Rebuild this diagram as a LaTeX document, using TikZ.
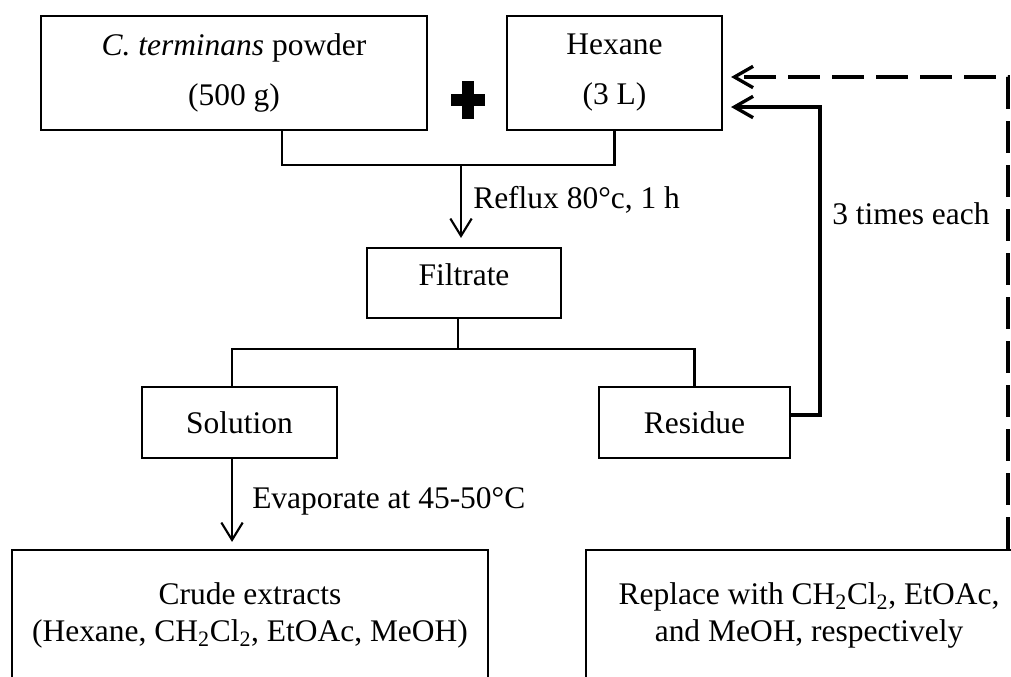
\documentclass[tikz,border=0pt]{standalone}
\usepackage{fontspec}
\setmainfont{Liberation Serif}
\usetikzlibrary{arrows.meta}
\begin{document}
\begin{tikzpicture}[
  x=0.75pt, y=-0.75pt,
  box/.style={draw, line width=1.6pt, inner sep=0pt, align=center,
    font=\fontsize{23.6}{37.5}\selectfont},
  lowbox/.style={box, font=\fontsize{23.6}{27.75}\selectfont},
  note/.style={inner sep=0pt, anchor=base west, font=\fontsize{23.6}{28}\selectfont},
  link/.style={line width=1.6pt},
  arr/.style={link, -{Straight Barb[length=13pt,width=16pt]}},
  cycle/.style={line width=2.5pt, -{Straight Barb[length=14pt,width=16pt]}, shorten >=6pt},
  again/.style={cycle, dash pattern=on 24pt off 9pt}
]
\useasboundingbox (0,0) rectangle (1011,676);

% starting materials
\node[box, minimum width=289.5pt, minimum height=85.5pt] (powder) at (234,73)
  {\textit{C. terminans} powder\\(500 g)};
\node[box, minimum width=161.25pt, minimum height=85.5pt] (hex) at (614.5,73)
  {Hexane\\(3 L)};
% plus sign
\fill (462,81) rectangle (474,119);
\fill (451,94) rectangle (485,106);

% intermediate steps
\node[box, minimum width=145.5pt, minimum height=52.5pt, text height=16pt, text depth=13pt]
  (filt) at (464,283) {Filtrate};
\node[box, minimum width=146.25pt, minimum height=53.25pt] (sol) at (239.5,422.5) {Solution};
\node[box, minimum width=143.25pt, minimum height=53.25pt] (res) at (694.5,422.5) {Residue};

% products (open towards the bottom edge)
\node[lowbox, minimum width=357pt, minimum height=97.5pt] (crude) at (250,615)
  {Crude extracts\\(Hexane, CH\textsubscript{2}Cl\textsubscript{2}, EtOAc, MeOH)};
\node[lowbox, minimum width=334.5pt, minimum height=97.5pt] (rep) at (809,615)
  {Replace with CH\textsubscript{2}Cl\textsubscript{2}, EtOAc,\\and MeOH, respectively};

% join points
\coordinate (mix) at (461,165);
\coordinate (split) at (458,349);
\coordinate (back) at (820,107);
\coordinate (redo) at (1008,77);

% mixing and reflux
\draw[link] ([xshift=36pt]powder.south) |- (mix) -| (hex.south);
\draw[arr, shorten >=6.75pt] (mix) -- (mix |- filt.north);
\node[note] (reflux) at (473,208) {Reflux 80°c, 1 h};

% filtration
\draw[link] ([xshift=-4.5pt]filt.south) -- (split);
\draw[link] ([xshift=-5.6pt]sol.north) |- (split) -| (res.north);

% evaporation
\draw[arr, shorten >=5.25pt] ([xshift=-5.6pt]sol.south) -- ([xshift=-5.6pt]sol.south |- crude.north);
\node[note] (evap) at (252,508) {Evaporate at 45-50°C};

% repeated extraction
\draw[cycle] ([yshift=5.6pt]res.east) -| (back) -- ([yshift=-25.5pt]hex.east);
\node[note] (times) at (832,224) {3 times each};
\draw[again] (rep.north -| redo) -- (redo) -- ([yshift=-3pt]hex.east);
\end{tikzpicture}
\end{document}
